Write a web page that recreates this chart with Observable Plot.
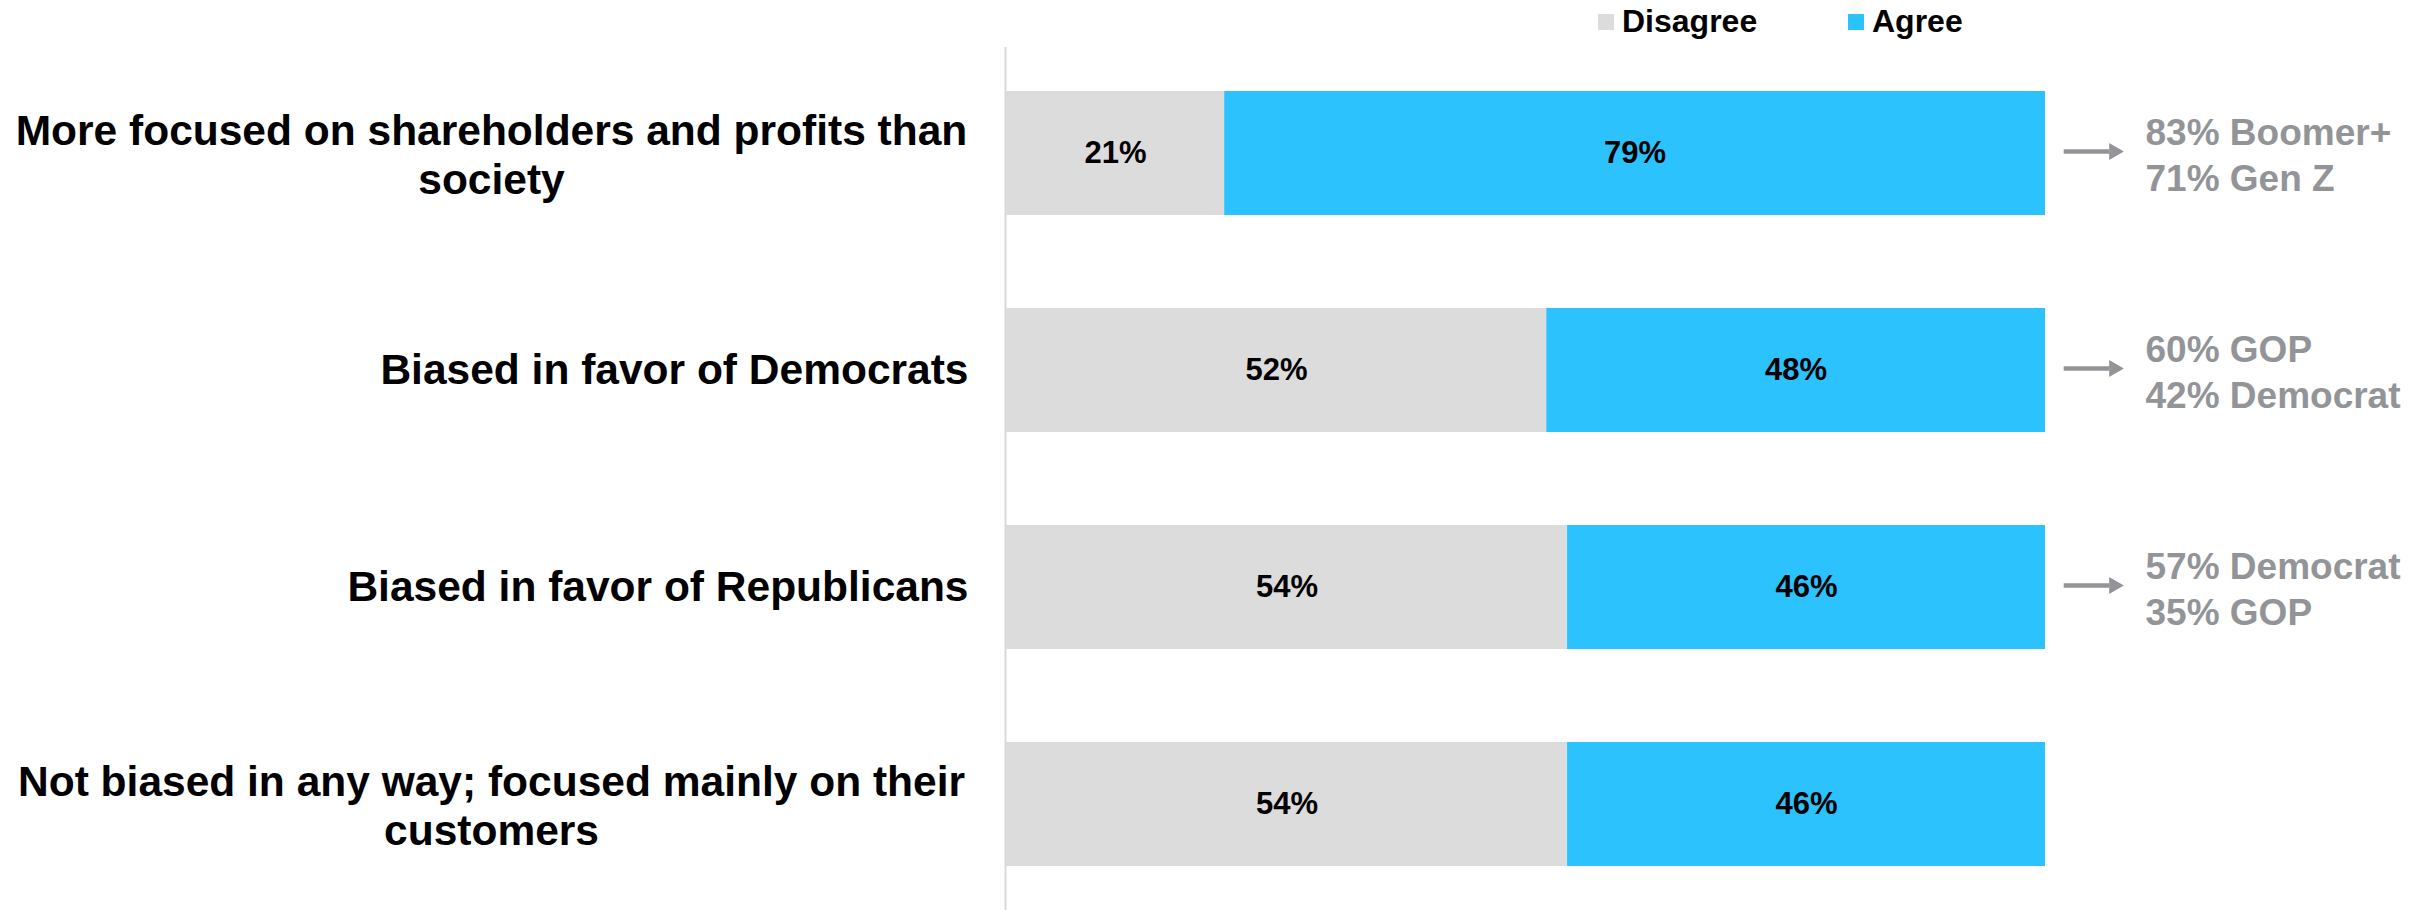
<!DOCTYPE html>
<html><head><meta charset="utf-8">
<script src="https://cdn.jsdelivr.net/npm/d3@7"></script>
<script src="https://cdn.jsdelivr.net/npm/@observablehq/plot@0.6"></script>
<style>
body{margin:0;background:#fff;font-family:"Liberation Sans",Arial,sans-serif;}
#legend{position:relative;height:45px;width:2425px;font-weight:bold;font-size:32px;color:#000}
.sw{position:absolute;top:14px;width:16px;height:16px}
.lb{position:absolute;top:5px;line-height:32px;white-space:nowrap}
</style></head><body>
<div id="legend"></div><div id="chart"></div>
<script>
const categories = [
  "More focused on shareholders and profits than\nsociety",
  "Biased in favor of Democrats",
  "Biased in favor of Republicans",
  "Not biased in any way; focused mainly on their\ncustomers"
];
const responses = ["Disagree", "Agree"];
const colors = ["#dcdcdc", "#2bc2fe"];
const disagree = [21, 52, 54, 54];
const agree = [79, 48, 46, 46];
const notes = ["83% Boomer+\n71% Gen Z", "60% GOP\n42% Democrat", "57% Democrat\n35% GOP", ""];

const rows = categories.flatMap((c, i) => [
  {category: c, response: responses[0], value: disagree[i]},
  {category: c, response: responses[1], value: agree[i]}
]);
const notesData = categories.map((c, i) => ({category: c, note: notes[i], total: disagree[i] + agree[i]})).filter(d => d.note);

// legend
const legend = document.getElementById("legend");
const legendPos = [1598, 1848];
responses.forEach((r, i) => {
  const sw = document.createElement("div");
  sw.className = "sw"; sw.style.left = legendPos[i] + "px"; sw.style.background = colors[i];
  const lb = document.createElement("div");
  lb.className = "lb"; lb.style.left = (legendPos[i] + 24) + "px"; lb.textContent = r;
  legend.appendChild(sw); legend.appendChild(lb);
});

const gray = "#929497";
const font = {fontWeight: "bold"};
const chart = Plot.plot({
  width: 2425, height: 865,
  marginLeft: 1006, marginRight: 380, marginTop: 2, marginBottom: 0,
  x: {domain: [0, 100], axis: null},
  y: {domain: categories, axis: null, paddingInner: 0.428, paddingOuter: 0.2},
  color: {domain: responses, range: colors},
  style: {fontFamily: '"Liberation Sans", Arial, sans-serif', background: "white", overflow: "visible"},
  marks: [
    Plot.ruleX([0], {stroke: "#d9d9d9", strokeWidth: 2, dx: -1}),
    Plot.barX(rows, {x: "value", y: "category", fill: "response"}),
    Plot.text(rows, Plot.stackX({x: "value", y: "category", text: d => d.value + "%", fontSize: 31, fill: "black", ...font})),
    Plot.text(categories.filter(c => !c.includes("\n")), {y: d => d, text: d => d, frameAnchor: "left", textAnchor: "end", dx: -38, fontSize: 42.5, fill: "black", ...font}),
    Plot.text(categories.filter(c => c.includes("\n")), {y: d => d, text: d => d, frameAnchor: "left", textAnchor: "middle", dx: -515, lineHeight: 1.15, fontSize: 42.5, fill: "black", ...font}),
    Plot.ruleY(notesData, {y: "category", x1: d => d.total + 1.8, x2: d => d.total + 6.2, stroke: gray, strokeWidth: 4.5, dy: -2}),
    Plot.dot(notesData, {x: d => d.total + 6.6, y: "category", symbol: "triangle", r: 6.3, rotate: 90, fill: gray, stroke: "none", dy: -2}),
    Plot.text(notesData, {x: "total", y: "category", text: "note", textAnchor: "start", dx: 100, fontSize: 37, lineHeight: 1.22, fill: gray, ...font})
  ]
});
document.getElementById("chart").appendChild(chart);
</script>
</body></html>
